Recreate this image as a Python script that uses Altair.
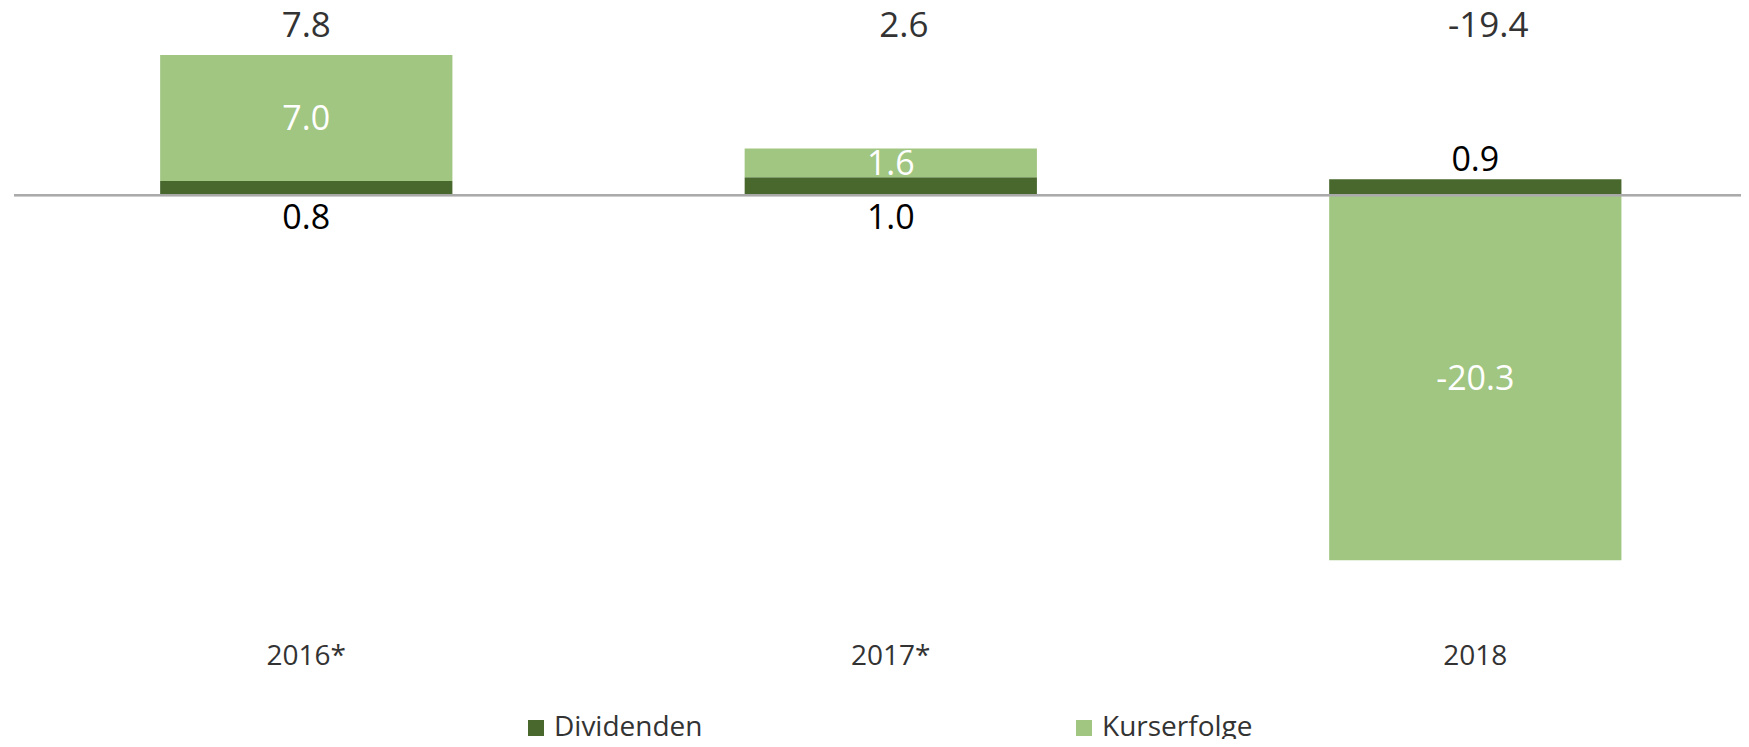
import altair as alt
import pandas as pd

# ---- data ----
years = ["2016*", "2017*", "2018"]
dividenden = [0.8, 1.0, 0.9]
kurserfolge = [7.0, 1.6, -20.3]
totals = [7.8, 2.6, -19.4]
series_names = ["Dividenden", "Kurserfolge"]
colors = ["#49682E", "#A1C681"]

FONT = "Open Sans"

long_rows = []
for yr, d, k in zip(years, dividenden, kurserfolge):
    long_rows.append({"year": yr, "series": series_names[0], "value": d, "ord": 0})
    long_rows.append({"year": yr, "series": series_names[1], "value": k, "ord": 1})
long_df = pd.DataFrame(long_rows)

wide_df = pd.DataFrame({
    "year": years,
    "div": dividenden,
    "kurs": kurserfolge,
    "total": totals,
})
wide_df["div_lbl"] = [f"{v:.1f}" for v in dividenden]
wide_df["kurs_lbl"] = [f"{v:.1f}" for v in kurserfolge]
wide_df["total_lbl"] = [f"{v:.1f}" for v in totals]

y_scale = alt.Scale(domain=[-23.62, 10.42], nice=False, zero=False)
x_enc = alt.X(
    "year:N",
    sort=years,
    scale=alt.Scale(paddingInner=0.5, paddingOuter=0.2273, align=0.55),
    axis=alt.Axis(
        title=None, labelAngle=0, domain=False, ticks=False, tickSize=0,
        grid=False, labelFontSize=28, labelFont=FONT, labelColor="#333333",
        labelPadding=44, labelBaseline="alphabetic",
    ),
)

bars = alt.Chart(long_df).mark_bar(strokeWidth=0).encode(
    x=x_enc,
    y=alt.Y("value:Q", stack="zero", scale=y_scale, axis=None),
    order=alt.Order("ord:Q", sort="ascending"),
    color=alt.Color(
        "series:N",
        scale=alt.Scale(domain=series_names, range=colors),
        legend=alt.Legend(
            title=None, orient="none", legendX=508, legendY=706,
            direction="horizontal", symbolType="square", symbolSize=256,
            symbolStrokeWidth=0, labelFontSize=28, labelFont=FONT,
            labelColor="#333333", labelOffset=4, columnPadding=367,
            padding=0, labelLimit=400,
        ),
    ),
)

zero_line = alt.Chart(wide_df).mark_rule(color="#AAAAAA", strokeWidth=2).encode(
    y=alt.datum(0, scale=y_scale)
)

base = alt.Chart(wide_df).encode(x=alt.X("year:N", sort=years))

kurs_labels = base.transform_calculate(
    mid="datum.kurs >= 0 ? datum.div + datum.kurs / 2 : datum.kurs / 2"
).mark_text(
    font=FONT, fontSize=34, color="#FFFFFF", baseline="alphabetic", dy=12
).encode(y=alt.Y("mid:Q", scale=y_scale), text="kurs_lbl:N")

div_labels_below = base.transform_filter("datum.kurs >= 0").mark_text(
    font=FONT, fontSize=34, color="#000000", baseline="alphabetic", dy=34
).encode(y=alt.datum(0, scale=y_scale), text="div_lbl:N")

div_labels_above = base.transform_filter("datum.kurs < 0").mark_text(
    font=FONT, fontSize=34, color="#000000", baseline="alphabetic", dy=-8
).encode(y=alt.Y("div:Q", scale=y_scale), text="div_lbl:N")

total_first = base.transform_filter(alt.datum.year == years[0]).mark_text(
    font=FONT, fontSize=35, color="#333333", baseline="alphabetic"
).encode(y=alt.datum(8.78, scale=y_scale), text="total_lbl:N")

total_rest = base.transform_filter(alt.datum.year != years[0]).mark_text(
    font=FONT, fontSize=35, color="#333333", baseline="alphabetic", dx=13
).encode(y=alt.datum(8.78, scale=y_scale), text="total_lbl:N")

chart = alt.layer(
    bars, zero_line, kurs_labels, div_labels_below, div_labels_above,
    total_first, total_rest
).properties(
    width=1727,
    height=612,
    autosize=alt.AutoSizeParams(type="none"),
    padding={"left": 6, "top": 0, "right": 0, "bottom": 119},
).configure_view(stroke=None)

chart.save("out.html", embed_options={"renderer": "svg", "actions": False})
